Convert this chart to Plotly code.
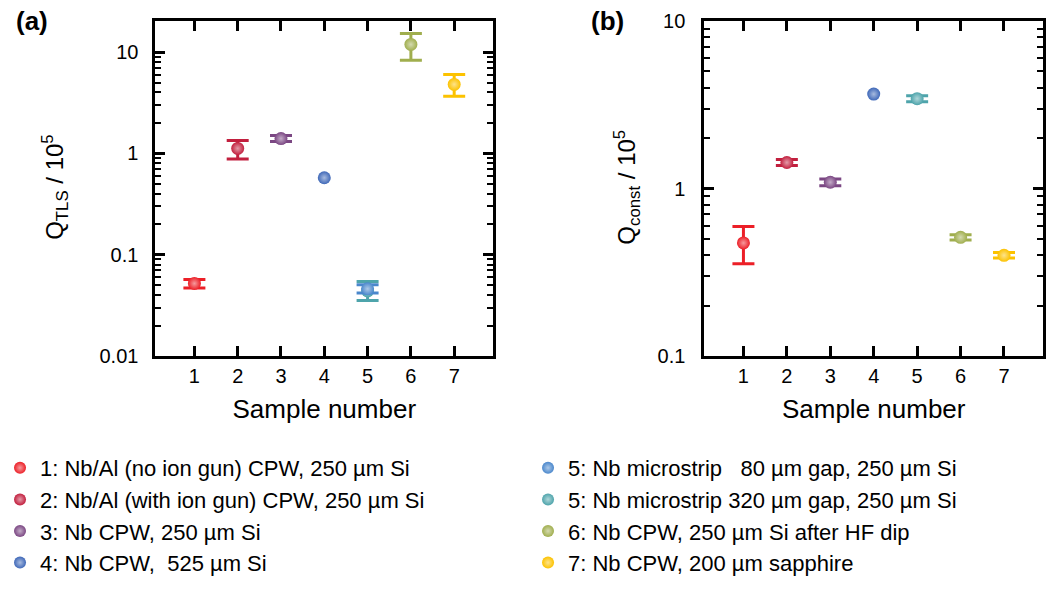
import plotly.graph_objects as go

# Sample positions and legend entries
sample_x = [1, 2, 3, 4, 5, 5, 6, 7]
sample_names = [
    "1: Nb/Al (no ion gun) CPW, 250 µm Si",
    "2: Nb/Al (with ion gun) CPW, 250 µm Si",
    "3: Nb CPW, 250 µm Si",
    "4: Nb CPW,  525 µm Si",
    "5: Nb microstrip   80 µm gap, 250 µm Si",
    "5: Nb microstrip 320 µm gap, 250 µm Si",
    "6: Nb CPW, 250 µm Si after HF dip",
    "7: Nb CPW, 200 µm sapphire",
]
sample_colors = ["#ec1f27", "#c21f3e", "#7b4783", "#3f68b8",
                 "#4a87cc", "#4ea4ab", "#a0ae4e", "#fcc200"]
# which legend column each sample is listed in
legend_column = ["legend", "legend", "legend", "legend",
                 "legend2", "legend2", "legend2", "legend2"]

# Q_TLS / 1e5 with upper / lower error limits (None = no error bar)
q_tls = [0.052, 1.12, 1.40, 0.575, 0.046, 0.044, 11.9, 4.8]
q_tls_hi = [0.057, 1.34, 1.50, None, 0.0505, 0.0545, 15.3, 6.0]
q_tls_lo = [0.047, 0.88, 1.31, None, 0.0418, 0.0353, 8.3, 3.66]

# Q_const / 1e5 with upper / lower error limits (None = not measured / no error bar)
q_const = [0.473, 1.43, 1.09, 3.66, None, 3.44, 0.511, 0.399]
q_const_hi = [0.594, 1.49, 1.14, None, None, 3.58, 0.53, 0.415]
q_const_lo = [0.356, 1.37, 1.04, None, None, 3.30, 0.493, 0.384]

# draw order: the 80 µm microstrip sits on top of the 320 µm one
draw_order = [0, 1, 2, 3, 5, 4, 6, 7]

FONT = "Arial, Liberation Sans, sans-serif"


def lighten(hex_color, f=0.55):
    h = hex_color.lstrip("#")
    r, g, b = (int(h[i:i + 2], 16) for i in (0, 2, 4))
    r, g, b = (int(c + (255 - c) * f) for c in (r, g, b))
    return f"rgb({r},{g},{b})"


fig = go.Figure()

for panel, (vals, his, los, xa, ya) in enumerate([
    (q_tls, q_tls_hi, q_tls_lo, "x", "y"),
    (q_const, q_const_hi, q_const_lo, "x2", "y2"),
]):
    for i in draw_order:
        v = vals[i]
        if v is None:
            continue
        err = None
        if his[i] is not None:
            err = dict(type="data", symmetric=False,
                       array=[his[i] - v], arrayminus=[v - los[i]],
                       color=sample_colors[i], thickness=3, width=11)
        fig.add_trace(go.Scatter(
            x=[sample_x[i]], y=[v], xaxis=xa, yaxis=ya,
            mode="markers", name=sample_names[i],
            legend=legend_column[i], legendrank=i + 1,
            legendgroup=f"s{i}", showlegend=(panel == 0),
            marker=dict(size=13, color=sample_colors[i],
                        gradient=dict(type="radial", color=lighten(sample_colors[i])),
                        line=dict(width=0)),
            error_y=err,
        ))

axis_common = dict(
    showline=True, linecolor="black", linewidth=3, mirror="ticks",
    ticks="inside", ticklen=10, tickwidth=2.5, tickcolor="black",
    showgrid=False, zeroline=False, automargin=False,
    tickfont=dict(family=FONT, size=20, color="black"),
)

x_ticks = [1, 2, 3, 4, 5, 6, 7]
xaxis_common = dict(axis_common, range=[0.1, 7.9], tickvals=x_ticks,
                    ticktext=[str(t) for t in x_ticks],
                    title=dict(text="Sample number", standoff=14,
                               font=dict(family=FONT, size=26, color="black")))


def minor_vals(lo_exp, hi_exp):
    return [m * 10 ** e for e in range(lo_exp, hi_exp) for m in range(2, 10)]


yminor = dict(ticks="inside", ticklen=6, tickwidth=2, tickcolor="black")

legend_common = dict(
    orientation="v", yanchor="top", xanchor="left",
    font=dict(family=FONT, size=22, color="black"),
    itemsizing="constant", tracegroupgap=0,
    bgcolor="rgba(0,0,0,0)", borderwidth=0,
)


def label(text, px, py, size, angle=0):
    return dict(text=text, x=px / 1064, y=1 - py / 590, xref="paper", yref="paper",
                xanchor="center", yanchor="middle", textangle=angle,
                showarrow=False, font=dict(family=FONT, size=size, color="black"))


fig.update_layout(
    width=1064, height=590,
    margin=dict(l=0, r=0, t=0, b=0),
    paper_bgcolor="white", plot_bgcolor="white",
    font=dict(family=FONT, color="black"),
    xaxis=dict(xaxis_common, domain=[152 / 1064, 491 / 1064], anchor="y"),
    xaxis2=dict(xaxis_common, domain=[703 / 1064, 1043 / 1064], anchor="y2"),
    yaxis=dict(axis_common, type="log", range=[-2, 1.307], anchor="x",
               domain=[234 / 590, 569 / 590],
               tickvals=[0.01, 0.1, 1, 10], ticktext=["0.01", "0.1", "1", "10"],
               ticklabelstandoff=10,
               minor=dict(yminor, tickvals=minor_vals(-2, 2))),
    yaxis2=dict(axis_common, type="log", range=[-1, 1], anchor="x2",
                domain=[234 / 590, 569 / 590],
                tickvals=[0.1, 1, 10], ticktext=["0.1", "1", "10"],
                ticklabelstandoff=12,
                minor=dict(yminor, tickvals=minor_vals(-1, 1))),
    legend=dict(legend_common, x=-4 / 1064, y=1 - 447 / 590),
    legend2=dict(legend_common, x=526 / 1064, y=1 - 447 / 590),
    showlegend=True,
    annotations=[
        label("<b>(a)</b>", 28, 21, 26),
        label("<b>(b)</b>", 606, 21, 26),
        label("Q<sub>TLS</sub> / 10<sup>5</sup>", 51, 187, 24, -90),
        label("Q<sub>const</sub> / 10<sup>5</sup>", 625, 187, 24, -90),
    ],
)

fig.write_html("out.html")
